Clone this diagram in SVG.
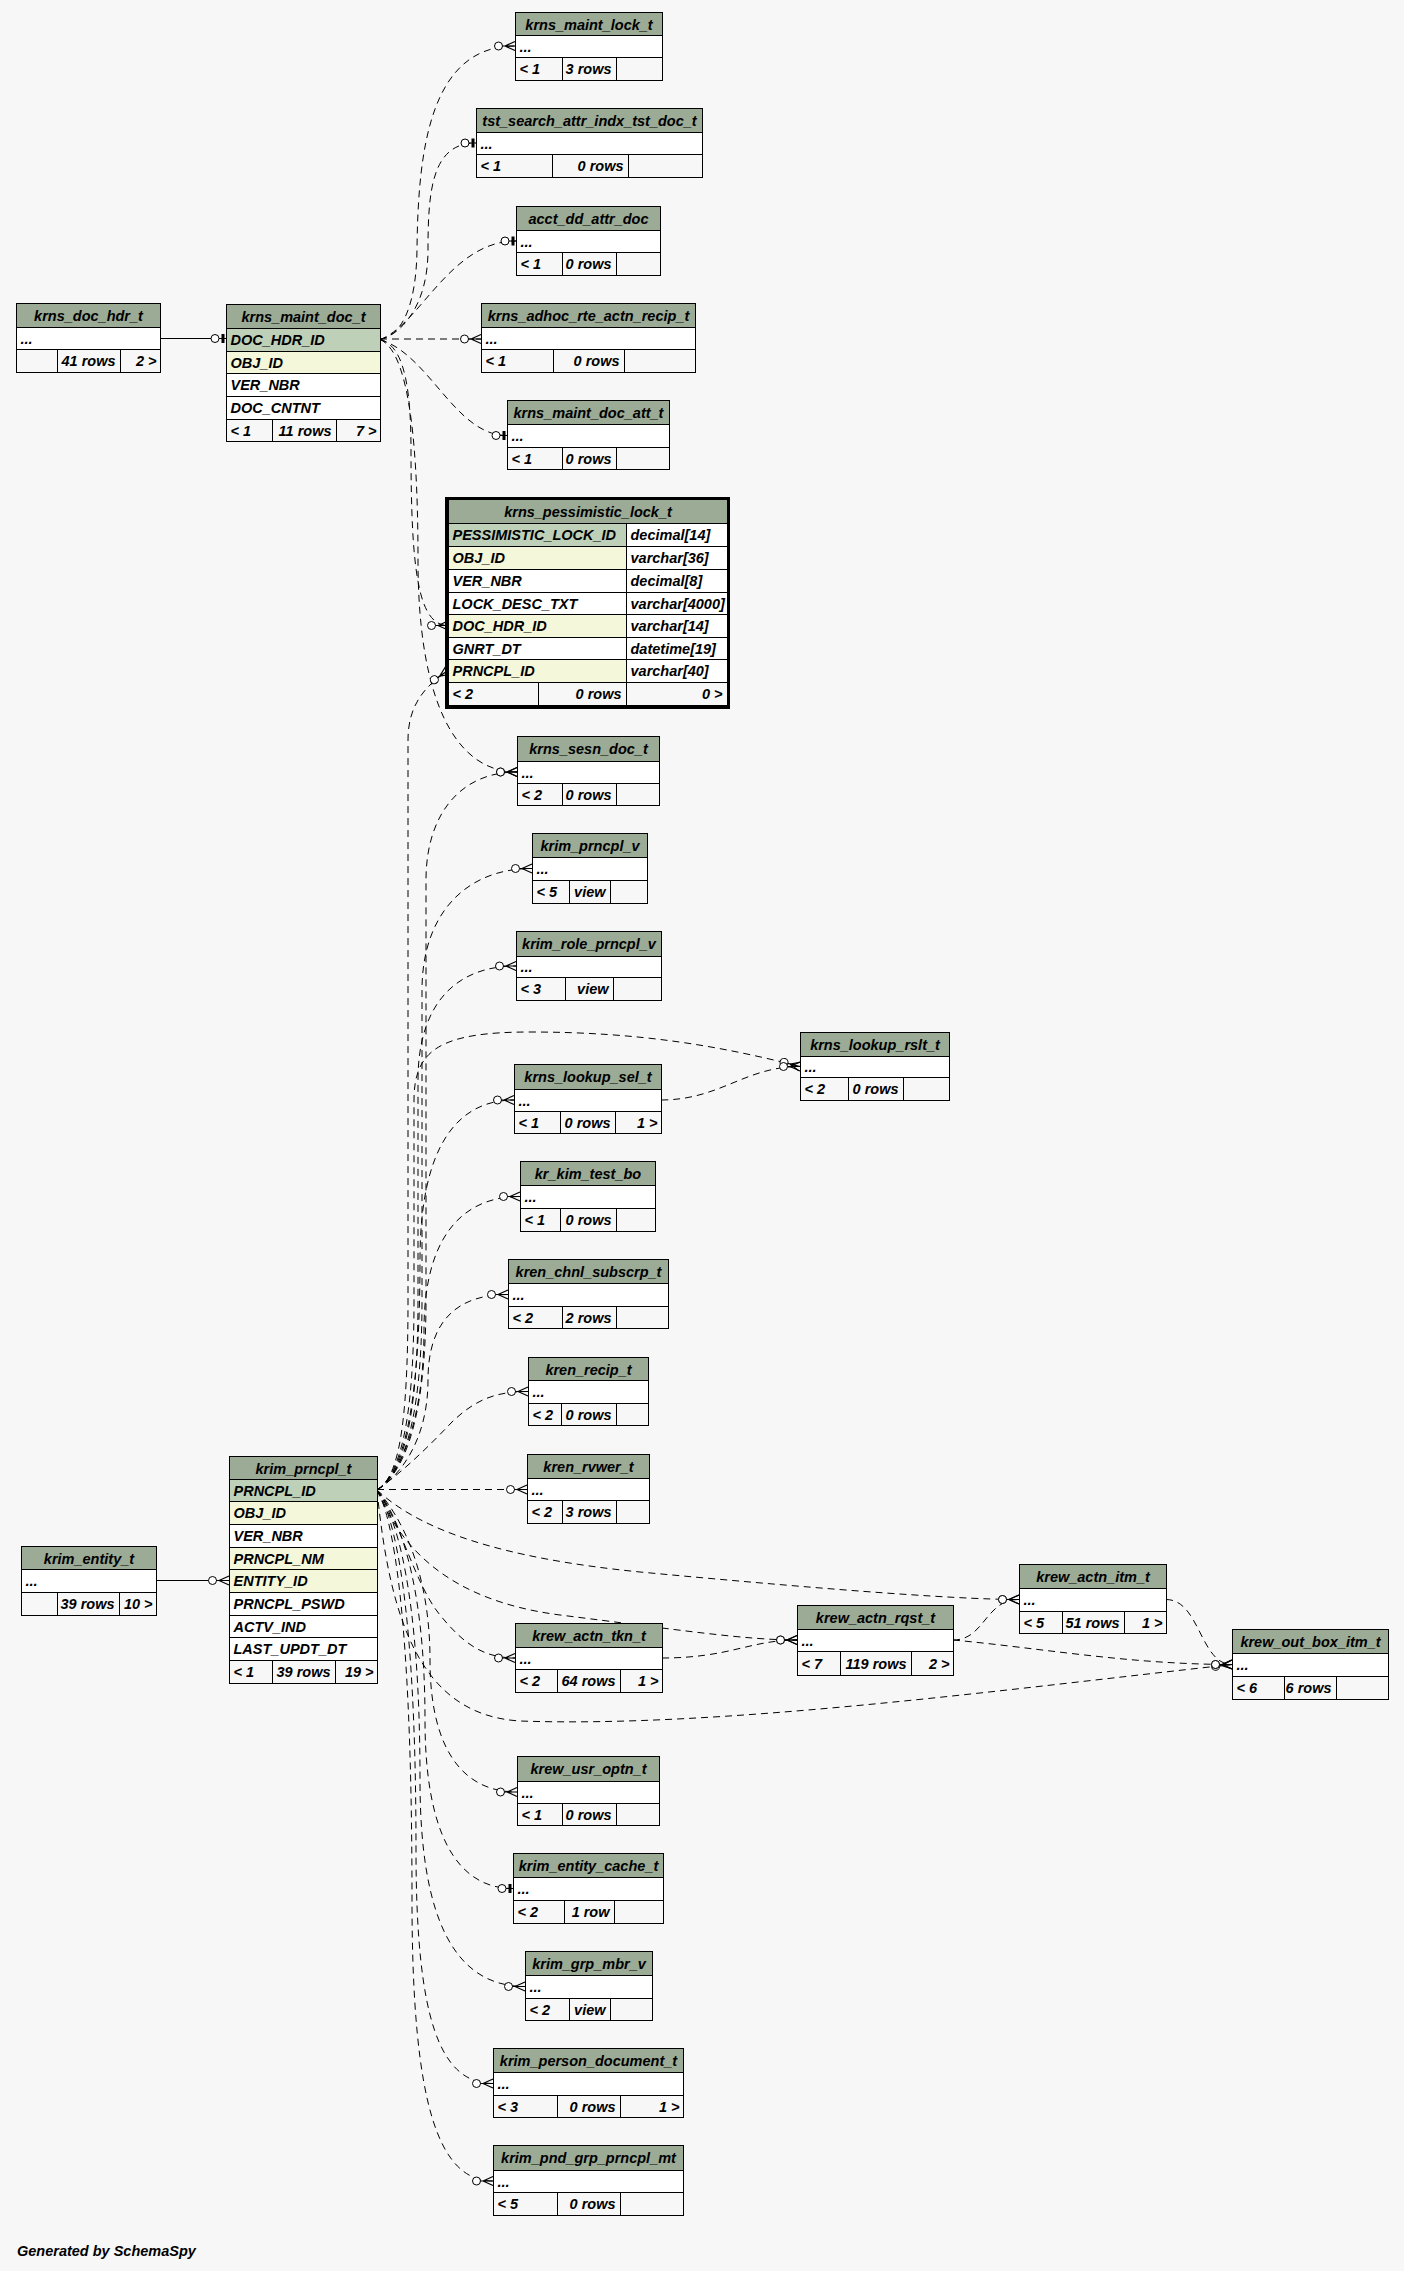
<svg xmlns="http://www.w3.org/2000/svg" width="1404" height="2271" viewBox="0 0 1404 2271">
<style>
.h{fill:#9bab96;stroke:#000}
.k{fill:#bed1b8;stroke:#000}
.i{fill:#f4f7da;stroke:#000}
.w{fill:#fff;stroke:#000}
.f{fill:#f7f7f7;stroke:#000}
.l{fill:none;stroke:#000}
text{font-family:"Liberation Sans",Arial,Helvetica,sans-serif;font-size:14.5px;font-weight:bold;font-style:italic;fill:#000}
.c{text-anchor:middle}
.r{text-anchor:end}
.e{fill:none;stroke:#000;stroke-width:1;stroke-dasharray:7,5}
.s{fill:none;stroke:#000;stroke-width:1}
</style>
<defs>
<marker id="crow" markerUnits="userSpaceOnUse" viewBox="-23 -7 24 14" refX="0" refY="0" markerWidth="24" markerHeight="14" orient="auto" overflow="visible">
<circle cx="-16.5" cy="0" r="4" fill="#fff" stroke="#000" stroke-width="1"/>
<path d="M-12.5,0 H0 M-10,0 L0,-4.5 M-10,0 L0,4.5" fill="none" stroke="#000" stroke-width="1.2"/>
</marker>
<marker id="tee" markerUnits="userSpaceOnUse" viewBox="-17 -7 18 14" refX="0" refY="0" markerWidth="18" markerHeight="14" orient="auto" overflow="visible">
<circle cx="-11" cy="0" r="4" fill="#fff" stroke="#000" stroke-width="1"/>
<path d="M-7,0 H0" fill="none" stroke="#000" stroke-width="1"/>
<rect x="-4.5" y="-4.5" width="3" height="9" fill="#000"/>
</marker>
</defs>
<rect x="0" y="0" width="1404" height="2271" fill="#f7f7f7"/>

<g id="connectors">
<path class="s" d="M160,338.5 H226" marker-end="url(#tee)"/>
<path class="s" d="M156,1580.5 H229" marker-end="url(#crow)"/>
<path class="e" d="M380,339.5 C400,336 416,310 417,250 C418,150 430,46 515,46" marker-end="url(#crow)"/>
<path class="e" d="M380,339.5 C402,334 428,305 428,250 C428,190 432,143 476,143" marker-end="url(#tee)"/>
<path class="e" d="M380,339.5 C420,325 450,241 516,241" marker-end="url(#tee)"/>
<path class="e" d="M380,339 H481" marker-end="url(#crow)"/>
<path class="e" d="M380,339.5 C430,355 455,435.5 507,435.5" marker-end="url(#tee)"/>
<path class="e" d="M380,339.5 C402,345 411,380 411,450 C411,570 418,625.5 448,625.5" marker-end="url(#crow)"/>
<path class="e" d="M380,339.5 C405,350 418,420 418,560 C418,700 455,772 517,772" marker-end="url(#crow)"/>
<path class="e" d="M377,1490 C398,1478 408,1430 408,1300 L408,740 C408,705 425,686 448,670.5" marker-end="url(#crow)"/>
<path class="e" d="M377,1490 C400,1476 426,1430 426,1300 L426,880 C426,815 460,772 517,772" marker-end="url(#crow)"/>
<path class="e" d="M377,1490 C400,1476 422,1430 422,1300 L422,990 C422,915 465,868.5 532,868.5" marker-end="url(#crow)"/>
<path class="e" d="M377,1490 C400,1476 418,1430 418,1300 L418,1080 C418,1005 455,966 516,966" marker-end="url(#crow)"/>
<path class="e" d="M377,1490 C398,1476 414,1430 414,1300 L414,1100 C414,1050 440,1032 530,1032 C640,1032 720,1046 800,1066.5" marker-end="url(#crow)"/>
<path class="e" d="M377,1490 C400,1476 420,1420 420,1260 C420,1150 455,1100 514,1100" marker-end="url(#crow)"/>
<path class="e" d="M377,1490 C400,1476 424,1420 424,1330 C424,1240 460,1196.5 520,1196.5" marker-end="url(#crow)"/>
<path class="e" d="M377,1490 C400,1476 428,1440 428,1380 C428,1320 458,1294.5 508,1294.5" marker-end="url(#crow)"/>
<path class="e" d="M377,1490 C405,1470 430,1445 452,1422 C475,1400 495,1391.5 528,1391.5" marker-end="url(#crow)"/>
<path class="e" d="M377,1489.5 H527" marker-end="url(#crow)"/>
<path class="e" d="M377,1490 C420,1530 500,1558 640,1572 C800,1587 950,1599.5 1019,1599.5" marker-end="url(#crow)"/>
<path class="e" d="M377,1490 C400,1545 445,1600 560,1615 C680,1630 745,1640 797,1640" marker-end="url(#crow)"/>
<path class="e" d="M377,1490 C400,1520 415,1585 440,1615 C462,1642 482,1658 515,1658" marker-end="url(#crow)"/>
<path class="e" d="M377,1490 C390,1620 420,1715 520,1721 C720,1728 1000,1690 1232,1664.5" marker-end="url(#crow)"/>
<path class="e" d="M377,1490 C400,1515 430,1570 430,1660 C430,1745 460,1792 517,1792" marker-end="url(#crow)"/>
<path class="e" d="M377,1490 C398,1515 425,1580 425,1720 C425,1830 455,1888.5 513,1888.5" marker-end="url(#tee)"/>
<path class="e" d="M377,1490 C396,1515 420,1590 420,1780 C420,1920 455,1986.5 525,1986.5" marker-end="url(#crow)"/>
<path class="e" d="M377,1490 C394,1515 416,1600 416,1850 C416,2020 440,2083.5 493,2083.5" marker-end="url(#crow)"/>
<path class="e" d="M377,1490 C392,1515 412,1610 412,1900 C412,2110 440,2181 493,2181" marker-end="url(#crow)"/>
<path class="e" d="M661,1100 C720,1100 745,1066.5 800,1066.5" marker-end="url(#crow)"/>
<path class="e" d="M662,1658 C730,1658 750,1640 797,1640" marker-end="url(#crow)"/>
<path class="e" d="M953,1640 C985,1640 985,1599.5 1019,1599.5" marker-end="url(#crow)"/>
<path class="e" d="M953,1640 C1040,1648 1130,1664.5 1232,1664.5" marker-end="url(#crow)"/>
<path class="e" d="M1166,1599.5 C1200,1599.5 1200,1664.5 1232,1664.5" marker-end="url(#crow)"/>
</g>

<g transform="translate(0.5,0.5)">
<g id="krns_doc_hdr_t">
<rect class="h" x="16" y="303" width="144" height="24"/><rect class="w" x="16" y="327" width="144" height="22"/><rect class="f" x="16" y="349" width="144" height="23"/>
<path class="l" d="M57,349 V372 M120,349 V372"/>
<text class="c" x="88" y="320">krns_doc_hdr_t</text><text x="20" y="343">...</text>
<text class="r" x="115" y="365">41 rows</text><text class="r" x="156" y="365">2 &gt;</text>
</g>
<g id="krns_maint_doc_t">
<rect class="h" x="226" y="304" width="154" height="24"/>
<rect class="k" x="226" y="328" width="154" height="23"/>
<rect class="i" x="226" y="351" width="154" height="22"/>
<rect class="w" x="226" y="373" width="154" height="23"/>
<rect class="w" x="226" y="396" width="154" height="23"/>
<rect class="f" x="226" y="419" width="154" height="22"/>
<path class="l" d="M272,419 V441 M336,419 V441"/>
<text class="c" x="303" y="321">krns_maint_doc_t</text>
<text x="230" y="344">DOC_HDR_ID</text><text x="230" y="367">OBJ_ID</text><text x="230" y="389">VER_NBR</text><text x="230" y="412">DOC_CNTNT</text>
<text x="230" y="435">&lt; 1</text><text class="r" x="331" y="435">11 rows</text><text class="r" x="376" y="435">7 &gt;</text>
</g>
<g id="krns_maint_lock_t">
<rect class="h" x="515" y="12" width="147" height="23"/><rect class="w" x="515" y="35" width="147" height="22"/><rect class="f" x="515" y="57" width="147" height="23"/>
<path class="l" d="M562,57 V80 M616,57 V80"/>
<text class="c" x="588.5" y="29">krns_maint_lock_t</text><text x="519" y="51">...</text>
<text x="519" y="73">&lt; 1</text><text class="r" x="611" y="73">3 rows</text>
</g>
<g id="tst_search_attr_indx_tst_doc_t">
<rect class="h" x="476" y="108" width="226" height="24"/><rect class="w" x="476" y="132" width="226" height="22"/><rect class="f" x="476" y="154" width="226" height="23"/>
<path class="l" d="M552,154 V177 M628,154 V177"/>
<text class="c" x="589" y="125">tst_search_attr_indx_tst_doc_t</text><text x="480" y="148">...</text>
<text x="480" y="170">&lt; 1</text><text class="r" x="623" y="170">0 rows</text>
</g>
<g id="acct_dd_attr_doc">
<rect class="h" x="516" y="206" width="144" height="24"/><rect class="w" x="516" y="230" width="144" height="22"/><rect class="f" x="516" y="252" width="144" height="23"/>
<path class="l" d="M562,252 V275 M616,252 V275"/>
<text class="c" x="588" y="223">acct_dd_attr_doc</text><text x="520" y="246">...</text>
<text x="520" y="268">&lt; 1</text><text class="r" x="611" y="268">0 rows</text>
</g>
<g id="krns_adhoc_rte_actn_recip_t">
<rect class="h" x="481" y="303" width="214" height="24"/><rect class="w" x="481" y="327" width="214" height="22"/><rect class="f" x="481" y="349" width="214" height="23"/>
<path class="l" d="M553,349 V372 M624,349 V372"/>
<text class="c" x="588" y="320">krns_adhoc_rte_actn_recip_t</text><text x="485" y="343">...</text>
<text x="485" y="365">&lt; 1</text><text class="r" x="619" y="365">0 rows</text>
</g>
<g id="krns_maint_doc_att_t">
<rect class="h" x="507" y="400" width="162" height="24"/><rect class="w" x="507" y="424" width="162" height="23"/><rect class="f" x="507" y="447" width="162" height="22"/>
<path class="l" d="M562,447 V469 M616,447 V469"/>
<text class="c" x="588" y="417">krns_maint_doc_att_t</text><text x="511" y="440">...</text>
<text x="511" y="463">&lt; 1</text><text class="r" x="611" y="463">0 rows</text>
</g>
<g id="krns_pessimistic_lock_t">
<rect x="446" y="498" width="282" height="209" fill="none" stroke="#000" stroke-width="3"/>
<rect class="h" x="448" y="499" width="279" height="24"/>
<rect class="k" x="448" y="523" width="178" height="23"/><rect class="w" x="626" y="523" width="101" height="23"/>
<rect class="i" x="448" y="546" width="178" height="23"/><rect class="w" x="626" y="546" width="101" height="23"/>
<rect class="w" x="448" y="569" width="178" height="23"/><rect class="w" x="626" y="569" width="101" height="23"/>
<rect class="w" x="448" y="592" width="178" height="22"/><rect class="w" x="626" y="592" width="101" height="22"/>
<rect class="i" x="448" y="614" width="178" height="23"/><rect class="w" x="626" y="614" width="101" height="23"/>
<rect class="w" x="448" y="637" width="178" height="22"/><rect class="w" x="626" y="637" width="101" height="22"/>
<rect class="i" x="448" y="659" width="178" height="23"/><rect class="w" x="626" y="659" width="101" height="23"/>
<rect class="f" x="448" y="682" width="279" height="23"/>
<path class="l" d="M538,682 V705 M626,682 V705"/>
<text class="c" x="587.5" y="516">krns_pessimistic_lock_t</text>
<text x="452" y="539">PESSIMISTIC_LOCK_ID</text><text x="630" y="539">decimal[14]</text>
<text x="452" y="562">OBJ_ID</text><text x="630" y="562">varchar[36]</text>
<text x="452" y="585">VER_NBR</text><text x="630" y="585">decimal[8]</text>
<text x="452" y="608">LOCK_DESC_TXT</text><text x="630" y="608">varchar[4000]</text>
<text x="452" y="630">DOC_HDR_ID</text><text x="630" y="630">varchar[14]</text>
<text x="452" y="653">GNRT_DT</text><text x="630" y="653">datetime[19]</text>
<text x="452" y="675">PRNCPL_ID</text><text x="630" y="675">varchar[40]</text>
<text x="452" y="698">&lt; 2</text><text class="r" x="621" y="698">0 rows</text><text class="r" x="722" y="698">0 &gt;</text>
</g>
<g id="krns_sesn_doc_t">
<rect class="h" x="517" y="736" width="142" height="25"/><rect class="w" x="517" y="761" width="142" height="22"/><rect class="f" x="517" y="783" width="142" height="22"/>
<path class="l" d="M562,783 V805 M616,783 V805"/>
<text class="c" x="588" y="753">krns_sesn_doc_t</text><text x="521" y="777">...</text>
<text x="521" y="799">&lt; 2</text><text class="r" x="611" y="799">0 rows</text>
</g>
<g id="krim_prncpl_v">
<rect class="h" x="532" y="833" width="115" height="24"/><rect class="w" x="532" y="857" width="115" height="23"/><rect class="f" x="532" y="880" width="115" height="23"/>
<path class="l" d="M569,880 V903 M610,880 V903"/>
<text class="c" x="589.5" y="850">krim_prncpl_v</text><text x="536" y="873">...</text>
<text x="536" y="896">&lt; 5</text><text class="r" x="605" y="896">view</text>
</g>
<g id="krim_role_prncpl_v">
<rect class="h" x="516" y="931" width="145" height="25"/><rect class="w" x="516" y="956" width="145" height="21"/><rect class="f" x="516" y="977" width="145" height="23"/>
<path class="l" d="M565,977 V1000 M613,977 V1000"/>
<text class="c" x="588.5" y="948">krim_role_prncpl_v</text><text x="520" y="971">...</text>
<text x="520" y="993">&lt; 3</text><text class="r" x="608" y="993">view</text>
</g>
<g id="krns_lookup_rslt_t">
<rect class="h" x="800" y="1032" width="149" height="24"/><rect class="w" x="800" y="1056" width="149" height="21"/><rect class="f" x="800" y="1077" width="149" height="23"/>
<path class="l" d="M848,1077 V1100 M903,1077 V1100"/>
<text class="c" x="874.5" y="1049">krns_lookup_rslt_t</text><text x="804" y="1071">...</text>
<text x="804" y="1093">&lt; 2</text><text class="r" x="898" y="1093">0 rows</text>
</g>
<g id="krns_lookup_sel_t">
<rect class="h" x="514" y="1064" width="147" height="25"/><rect class="w" x="514" y="1089" width="147" height="22"/><rect class="f" x="514" y="1111" width="147" height="22"/>
<path class="l" d="M560,1111 V1133 M615,1111 V1133"/>
<text class="c" x="587.5" y="1081">krns_lookup_sel_t</text><text x="518" y="1105">...</text>
<text x="518" y="1127">&lt; 1</text><text class="r" x="610" y="1127">0 rows</text><text class="r" x="657" y="1127">1 &gt;</text>
</g>
<g id="kr_kim_test_bo">
<rect class="h" x="520" y="1161" width="135" height="24"/><rect class="w" x="520" y="1185" width="135" height="23"/><rect class="f" x="520" y="1208" width="135" height="23"/>
<path class="l" d="M560,1208 V1231 M616,1208 V1231"/>
<text class="c" x="587.5" y="1178">kr_kim_test_bo</text><text x="524" y="1201">...</text>
<text x="524" y="1224">&lt; 1</text><text class="r" x="611" y="1224">0 rows</text>
</g>
<g id="kren_chnl_subscrp_t">
<rect class="h" x="508" y="1259" width="160" height="24"/><rect class="w" x="508" y="1283" width="160" height="23"/><rect class="f" x="508" y="1306" width="160" height="22"/>
<path class="l" d="M562,1306 V1328 M616,1306 V1328"/>
<text class="c" x="588" y="1276">kren_chnl_subscrp_t</text><text x="512" y="1299">...</text>
<text x="512" y="1322">&lt; 2</text><text class="r" x="611" y="1322">2 rows</text>
</g>
<g id="kren_recip_t">
<rect class="h" x="528" y="1357" width="120" height="23"/><rect class="w" x="528" y="1380" width="120" height="23"/><rect class="f" x="528" y="1403" width="120" height="22"/>
<path class="l" d="M561,1403 V1425 M616,1403 V1425"/>
<text class="c" x="588" y="1374">kren_recip_t</text><text x="532" y="1396">...</text>
<text x="532" y="1419">&lt; 2</text><text class="r" x="611" y="1419">0 rows</text>
</g>
<g id="kren_rvwer_t">
<rect class="h" x="527" y="1454" width="122" height="24"/><rect class="w" x="527" y="1478" width="122" height="22"/><rect class="f" x="527" y="1500" width="122" height="23"/>
<path class="l" d="M562,1500 V1523 M616,1500 V1523"/>
<text class="c" x="588" y="1471">kren_rvwer_t</text><text x="531" y="1494">...</text>
<text x="531" y="1516">&lt; 2</text><text class="r" x="611" y="1516">3 rows</text>
</g>
<g id="krim_entity_t">
<rect class="h" x="21" y="1546" width="135" height="23"/><rect class="w" x="21" y="1569" width="135" height="23"/><rect class="f" x="21" y="1592" width="135" height="23"/>
<path class="l" d="M57,1592 V1615 M119,1592 V1615"/>
<text class="c" x="88.5" y="1563">krim_entity_t</text><text x="25" y="1585">...</text>
<text class="r" x="114" y="1608">39 rows</text><text class="r" x="152" y="1608">10 &gt;</text>
</g>
<g id="krim_prncpl_t">
<rect class="h" x="229" y="1456" width="148" height="23"/>
<rect class="k" x="229" y="1479" width="148" height="22"/>
<rect class="i" x="229" y="1501" width="148" height="23"/>
<rect class="w" x="229" y="1524" width="148" height="23"/>
<rect class="i" x="229" y="1547" width="148" height="22"/>
<rect class="i" x="229" y="1569" width="148" height="23"/>
<rect class="w" x="229" y="1592" width="148" height="23"/>
<rect class="w" x="229" y="1615" width="148" height="22"/>
<rect class="w" x="229" y="1637" width="148" height="23"/>
<rect class="f" x="229" y="1660" width="148" height="23"/>
<path class="l" d="M272,1660 V1683 M335,1660 V1683"/>
<text class="c" x="303" y="1473">krim_prncpl_t</text>
<text x="233" y="1495">PRNCPL_ID</text><text x="233" y="1517">OBJ_ID</text><text x="233" y="1540">VER_NBR</text><text x="233" y="1563">PRNCPL_NM</text>
<text x="233" y="1585">ENTITY_ID</text><text x="233" y="1608">PRNCPL_PSWD</text><text x="233" y="1631">ACTV_IND</text><text x="233" y="1653">LAST_UPDT_DT</text>
<text x="233" y="1676">&lt; 1</text><text class="r" x="330" y="1676">39 rows</text><text class="r" x="373" y="1676">19 &gt;</text>
</g>
<g id="krew_actn_itm_t">
<rect class="h" x="1019" y="1564" width="147" height="24"/><rect class="w" x="1019" y="1588" width="147" height="23"/><rect class="f" x="1019" y="1611" width="147" height="22"/>
<path class="l" d="M1062,1611 V1633 M1124,1611 V1633"/>
<text class="c" x="1092.5" y="1581">krew_actn_itm_t</text><text x="1023" y="1604">...</text>
<text x="1023" y="1627">&lt; 5</text><text class="r" x="1119" y="1627">51 rows</text><text class="r" x="1162" y="1627">1 &gt;</text>
</g>
<g id="krew_actn_rqst_t">
<rect class="h" x="797" y="1605" width="156" height="24"/><rect class="w" x="797" y="1629" width="156" height="22"/><rect class="f" x="797" y="1651" width="156" height="24"/>
<path class="l" d="M840,1651 V1675 M911,1651 V1675"/>
<text class="c" x="875" y="1622">krew_actn_rqst_t</text><text x="801" y="1645">...</text>
<text x="801" y="1668">&lt; 7</text><text class="r" x="906" y="1668">119 rows</text><text class="r" x="949" y="1668">2 &gt;</text>
</g>
<g id="krew_out_box_itm_t">
<rect class="h" x="1232" y="1629" width="156" height="24"/><rect class="w" x="1232" y="1653" width="156" height="23"/><rect class="f" x="1232" y="1676" width="156" height="23"/>
<path class="l" d="M1284,1676 V1699 M1336,1676 V1699"/>
<text class="c" x="1310" y="1646">krew_out_box_itm_t</text><text x="1236" y="1669">...</text>
<text x="1236" y="1692">&lt; 6</text><text class="r" x="1331" y="1692">6 rows</text>
</g>
<g id="krew_actn_tkn_t">
<rect class="h" x="515" y="1623" width="147" height="24"/><rect class="w" x="515" y="1647" width="147" height="22"/><rect class="f" x="515" y="1669" width="147" height="23"/>
<path class="l" d="M557,1669 V1692 M620,1669 V1692"/>
<text class="c" x="588.5" y="1640">krew_actn_tkn_t</text><text x="519" y="1663">...</text>
<text x="519" y="1685">&lt; 2</text><text class="r" x="615" y="1685">64 rows</text><text class="r" x="658" y="1685">1 &gt;</text>
</g>
<g id="krew_usr_optn_t">
<rect class="h" x="517" y="1756" width="142" height="25"/><rect class="w" x="517" y="1781" width="142" height="22"/><rect class="f" x="517" y="1803" width="142" height="22"/>
<path class="l" d="M562,1803 V1825 M616,1803 V1825"/>
<text class="c" x="588" y="1773">krew_usr_optn_t</text><text x="521" y="1797">...</text>
<text x="521" y="1819">&lt; 1</text><text class="r" x="611" y="1819">0 rows</text>
</g>
<g id="krim_entity_cache_t">
<rect class="h" x="513" y="1853" width="150" height="24"/><rect class="w" x="513" y="1877" width="150" height="23"/><rect class="f" x="513" y="1900" width="150" height="23"/>
<path class="l" d="M564,1900 V1923 M614,1900 V1923"/>
<text class="c" x="588" y="1870">krim_entity_cache_t</text><text x="517" y="1893">...</text>
<text x="517" y="1916">&lt; 2</text><text class="r" x="609" y="1916">1 row</text>
</g>
<g id="krim_grp_mbr_v">
<rect class="h" x="525" y="1951" width="127" height="24"/><rect class="w" x="525" y="1975" width="127" height="23"/><rect class="f" x="525" y="1998" width="127" height="22"/>
<path class="l" d="M569,1998 V2020 M610,1998 V2020"/>
<text class="c" x="588.5" y="1968">krim_grp_mbr_v</text><text x="529" y="1991">...</text>
<text x="529" y="2014">&lt; 2</text><text class="r" x="605" y="2014">view</text>
</g>
<g id="krim_person_document_t">
<rect class="h" x="493" y="2048" width="190" height="24"/><rect class="w" x="493" y="2072" width="190" height="23"/><rect class="f" x="493" y="2095" width="190" height="22"/>
<path class="l" d="M557,2095 V2117 M620,2095 V2117"/>
<text class="c" x="588" y="2065">krim_person_document_t</text><text x="497" y="2088">...</text>
<text x="497" y="2111">&lt; 3</text><text class="r" x="615" y="2111">0 rows</text><text class="r" x="679" y="2111">1 &gt;</text>
</g>
<g id="krim_pnd_grp_prncpl_mt">
<rect class="h" x="493" y="2145" width="190" height="25"/><rect class="w" x="493" y="2170" width="190" height="22"/><rect class="f" x="493" y="2192" width="190" height="23"/>
<path class="l" d="M557,2192 V2215 M620,2192 V2215"/>
<text class="c" x="588" y="2162">krim_pnd_grp_prncpl_mt</text><text x="497" y="2186">...</text>
<text x="497" y="2208">&lt; 5</text><text class="r" x="615" y="2208">0 rows</text>
</g>
</g>
<text x="17" y="2256">Generated by SchemaSpy</text>
</svg>
